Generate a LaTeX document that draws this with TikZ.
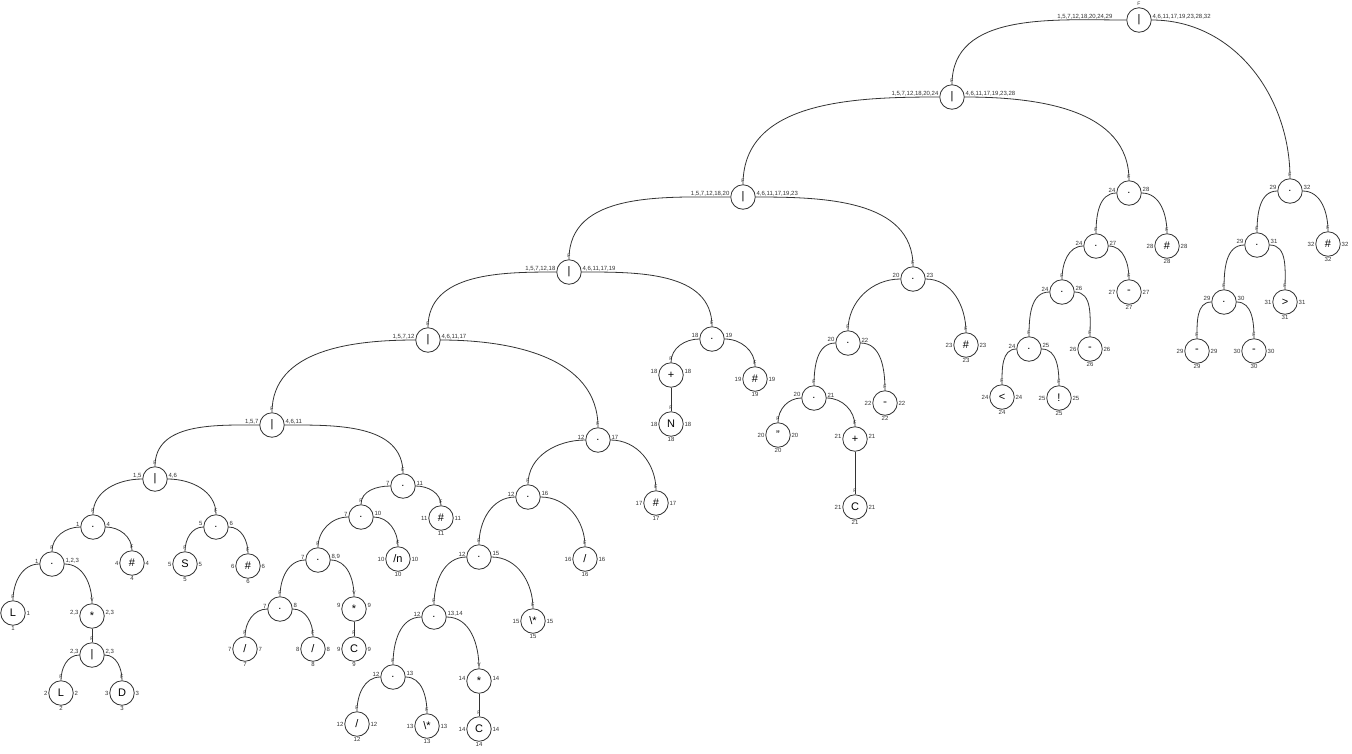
\documentclass[tikz,border=0pt]{standalone}
\usepackage{fontspec}
\setmainfont{Liberation Sans}
\usepackage{tikz}

\begin{document}
\begin{tikzpicture}[x=1pt,y=-1pt,
  cell/.style={circle,draw=black!80,line width=0.8pt,inner sep=0pt,minimum size=24.5pt,font=\fontsize{11}{11}\selectfont},
  lbl/.style={font=\fontsize{6}{6}\selectfont,inner sep=0.8pt,text=black!80},
  nul/.style={font=\fontsize{5}{5}\selectfont,inner sep=1.2pt,text=black!80},
  op/.style n args={3}{cell,label={[nul]90:#1},label={[lbl,anchor=south east]180:#2},label={[lbl,anchor=south west]0:#3}},
  leaf/.style={cell,label={[nul]90:F},label={[lbl]180:#1},label={[lbl]0:#1},label={[lbl]-90:#1}},
  link/.style={draw=black!80,line width=0.8pt}]
\useasboundingbox (0,0) rectangle (1352,753);

% alternations
\node[cell,label={[nul]90:F},label={[lbl,anchor=south east,xshift=-13pt]180:1,5,7,12,18,20,24,29},
  label={[lbl,anchor=south west]0:4,6,11,17,19,23,28,32}] (o1) at (1139,20) {|};
\node[op={F}{1,5,7,12,18,20,24}{4,6,11,17,19,23,28}] (o2) at (952,97) {|};
\node[op={F}{1,5,7,12,18,20}{4,6,11,17,19,23}] (o3) at (743,197) {|};
\node[op={F}{1,5,7,12,18}{4,6,11,17,19}] (o4) at (569,272) {|};
\node[op={F}{1,5,7,12}{4,6,11,17}] (o5) at (428,340) {|};
\node[op={F}{1,5,7}{4,6,11}] (o6) at (272,425) {|};
\node[op={F}{1,5}{4,6}] (o7) at (155,479) {|};
\node[op={F}{2,3}{2,3}] (o8) at (92,655) {|};

% concatenations
\node[op={F}{1}{4}] (c1) at (93,527) {.};
\node[op={F}{1}{1,2,3}] (c2) at (52,564) {.};
\node[op={F}{5}{6}] (c3) at (216,527) {.};
\node[op={F}{7}{11}] (c4) at (403,486) {.};
\node[op={F}{7}{10}] (c5) at (361,517) {.};
\node[op={F}{7}{8,9}] (c6) at (318,560) {.};
\node[op={F}{7}{8}] (c7) at (280,609) {.};
\node[op={F}{12}{17}] (c8) at (598,440) {.};
\node[op={F}{12}{16}] (c9) at (528,497) {.};
\node[op={F}{12}{15}] (c10) at (479,557) {.};
\node[op={F}{12}{13,14}] (c11) at (434,617) {.};
\node[op={F}{12}{13}] (c12) at (393,677) {.};
\node[op={F}{18}{19}] (c13) at (712,339) {.};
\node[op={F}{20}{23}] (c14) at (913,279) {.};
\node[op={F}{20}{22}] (c15) at (848,343) {.};
\node[op={F}{20}{21}] (c16) at (814,398) {.};
\node[op={F}{24}{28}] (c17) at (1129,193) {.};
\node[op={F}{24}{27}] (c18) at (1096,246) {.};
\node[op={F}{24}{26}] (c19) at (1062,292) {.};
\node[op={F}{24}{25}] (c20) at (1029,349) {.};
\node[op={F}{29}{32}] (c21) at (1290,191) {.};
\node[op={F}{29}{31}] (c22) at (1257,245) {.};
\node[op={F}{29}{30}] (c23) at (1224,302) {.};

% stars and pluses
\node[op={V}{2,3}{2,3}] (s1) at (92,616) {*};
\node[op={V}{9}{9}] (s9) at (354,609) {*};
\node[op={V}{14}{14}] (s14) at (479,681) {*};
\node[op={F}{18}{18}] (q18) at (671,375) {+};
\node[op={F}{21}{21}] (q21) at (855,439) {+};

% leaves
\node[cell,label={[nul]90:F},label={[lbl]0:1},label={[lbl]-90:1}] (p1) at (13,613) {L};
\node[leaf=2] (p2) at (61,693) {L};
\node[leaf=3] (p3) at (122,693) {D};
\node[leaf=4] (p4) at (132,563) {\#};
\node[leaf=5] (p5) at (185,564) {S};
\node[leaf=6] (p6) at (248,566) {\#};
\node[leaf=7] (p7) at (245,649) {/};
\node[leaf=8] (p8) at (313,649) {/};
\node[leaf=9] (p9) at (354,649) {C};
\node[leaf=10] (p10) at (398,559) {/n};
\node[leaf=11] (p11) at (441,518) {\#};
\node[leaf=12] (p12) at (357,724) {/};
\node[leaf=13] (p13) at (427,726) {\textbackslash*};
\node[leaf=14] (p14) at (479,729) {C};
\node[leaf=15] (p15) at (533,621) {\textbackslash*};
\node[leaf=16] (p16) at (585,559) {/};
\node[leaf=17] (p17) at (656,503) {\#};
\node[leaf=18] (p18) at (671,424) {N};
\node[leaf=19] (p19) at (755,379) {\#};
\node[leaf=20] (p20) at (778,435) {"};
\node[leaf=21] (p21) at (855,507) {C};
\node[leaf=22] (p22) at (885,403) {\fontsize{6}{6}\selectfont =};
\node[leaf=23] (p23) at (966,345) {\#};
\node[leaf=24] (p24) at (1002,397) {<};
\node[leaf=25] (p25) at (1059,398) {!};
\node[leaf=26] (p26) at (1090,349) {-};
\node[leaf=27] (p27) at (1129,292) {-};
\node[leaf=28] (p28) at (1167,246) {\#};
\node[leaf=29] (p29) at (1197,351) {-};
\node[leaf=30] (p30) at (1254,351) {-};
\node[leaf=31] (p31) at (1285,302) {>};
\node[leaf=32] (p32) at (1328,244) {\#};

% left children
\foreach \p/\c in {o1/o2,o2/o3,o3/o4,o4/o5,o5/o6,o6/o7,o7/c1,c1/c2,c2/p1,o8/p2,c3/p5,
  c4/c5,c5/c6,c6/c7,c7/p7,c8/c9,c9/c10,c10/c11,c11/c12,c12/p12,c13/q18,c14/c15,c15/c16,
  c16/p20,c17/c18,c18/c19,c19/c20,c20/p24,c21/c22,c22/c23,c23/p29}
  \draw[link] (\p.west) to[out=180,in=90] (\c.north);
% right children
\foreach \p/\c in {o1/c21,o2/c17,o3/c14,o4/c13,o5/c8,o6/c4,o7/c3,c1/p4,c2/s1,o8/p3,c3/p6,
  c4/p11,c5/p10,c6/s9,c7/p8,c8/p17,c9/p16,c10/p15,c11/s14,c12/p13,c13/p19,c14/p23,c15/p22,
  c16/q21,c17/p28,c18/p27,c19/p26,c20/p25,c21/p32,c22/p31,c23/p30}
  \draw[link] (\p.east) to[out=0,in=90] (\c.north);
% single children
\foreach \p/\c in {s1/o8,s9/p9,s14/p14,q18/p18,q21/p21}
  \draw[link] (\p.south) -- (\c.north);
\end{tikzpicture}
\end{document}
